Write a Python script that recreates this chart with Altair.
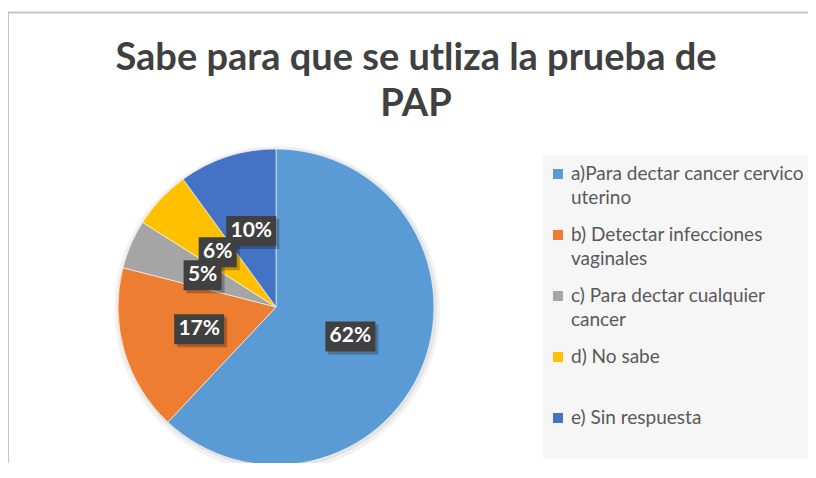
import altair as alt
import pandas as pd

# ---- data ----
categories = [
    "a)Para dectar cancer cervico uterino",
    "b) Detectar infecciones vaginales",
    "c) Para dectar cualquier cancer",
    "d) No sabe",
    "e) Sin respuesta",
]
legend_line1 = ["a)Para dectar cancer cervico", "b) Detectar infecciones",
                "c) Para dectar cualquier", "d) No sabe", "e) Sin respuesta"]
legend_line2 = ["uterino", "vaginales", "cancer", "", ""]
values = [62, 17, 5, 6, 10]
labels = ["62%", "17%", "5%", "6%", "10%"]
colors = ["#5B9BD5", "#ED7D31", "#A5A5A5", "#FFC000", "#4472C4"]
title_lines = ["Sabe para que se utliza la prueba de", "PAP"]

FONT = "Lato"
CX, CY, R = 268, 189, 158   # pie centre / radius (layout)
LR = 80                      # label radius (layout)

df = pd.DataFrame({"cat": categories, "value": values, "label": labels,
                   "order": list(range(len(values)))})
ldf = pd.DataFrame({"cat": categories, "l1": legend_line1, "l2": legend_line2})
one = pd.DataFrame({"k": [0]})

color_scale = alt.Scale(domain=categories, range=colors)

# frame lines
frame_left = alt.Chart(one).mark_rule(color="#C4C4C4", strokeWidth=2).encode(
    x=alt.value(0), y=alt.value(-106), y2=alt.value(400))
frame_top = alt.Chart(one).mark_rule(color="#C4C4C4", strokeWidth=2).encode(
    x=alt.value(-1), x2=alt.value(810), y=alt.value(-105.5))

# title (multi-line text)
title = alt.Chart(one).mark_text(
    text=title_lines, font=FONT, fontSize=38, fontWeight="bold", color="#404040",
    align="center", baseline="middle", lineHeight=46
).encode(x=alt.value(408), y=alt.value(-59))

# legend background
legend_bg = alt.Chart(one).mark_rect(color="#F6F6F6").encode(
    x=alt.value(535), x2=alt.value(804), y=alt.value(37), y2=alt.value(341))

# pie shadow
shadow = alt.Chart(one).mark_arc(outerRadius=R + 5, color="#000000", opacity=0.05).encode(
    theta=alt.value(6.2832), x=alt.value(CX + 1), y=alt.value(CY + 2))
shadow2 = alt.Chart(one).mark_arc(outerRadius=R + 2, color="#000000", opacity=0.06).encode(
    theta=alt.value(6.2832), x=alt.value(CX + 1), y=alt.value(CY + 1))

base = alt.Chart(df)
pie = base.mark_arc(outerRadius=R, stroke="#FFFFFF", strokeWidth=0.6).encode(
    theta=alt.Theta("value:Q", stack=True),
    color=alt.Color("cat:N", scale=color_scale, legend=None),
    order=alt.Order("order:Q"),
    x=alt.value(CX), y=alt.value(CY),
)

lab = base.transform_joinaggregate(total="sum(value)").transform_window(
    cum="sum(value)", sort=[alt.SortField("order")], frame=[None, 0]
).transform_calculate(
    mid="(datum.cum - datum.value/2) / datum.total * 2 * PI",
    bx=f"{CX} + {LR} * sin(datum.mid)",
    by=f"{CY} - {LR} * cos(datum.mid)",
    hw="length(datum.label) > 2 ? 25 : 19",
    x1="datum.bx - datum.hw", x2="datum.bx + datum.hw",
    y1="datum.by - 15", y2="datum.by + 15",
    sx1="datum.x1 + 3", sx2="datum.x2 + 3", sy1="datum.y1 + 3", sy2="datum.y2 + 3",
)

box_shadow = lab.mark_rect(color="#000000", opacity=0.25).encode(
    x=alt.X("sx1:Q", scale=None, axis=None), x2="sx2:Q",
    y=alt.Y("sy1:Q", scale=None, axis=None), y2="sy2:Q")
boxes = lab.mark_rect(color="#404040").encode(
    x=alt.X("x1:Q", scale=None, axis=None), x2="x2:Q",
    y=alt.Y("y1:Q", scale=None, axis=None), y2="y2:Q")
texts = lab.mark_text(font=FONT, fontSize=21, fontWeight="bold", color="#FFFFFF",
                      baseline="middle", align="center").encode(
    x=alt.X("bx:Q", scale=None, axis=None),
    y=alt.Y("by:Q", scale=None, axis=None),
    text="label:N")

# legend
ly = alt.Y("cat:N", scale=alt.Scale(domain=categories, range=[56, 300], padding=0),
           axis=None)
lbase = alt.Chart(ldf)
lsq = lbase.mark_square(size=100, filled=True, opacity=1).encode(
    x=alt.value(550), y=ly,
    color=alt.Color("cat:N", scale=color_scale, legend=None))
lt1 = lbase.mark_text(font=FONT, fontSize=19, color="#595959", align="left",
                      baseline="middle").encode(x=alt.value(563), y=ly, text="l1:N")
lt2 = lbase.mark_text(font=FONT, fontSize=19, color="#595959", align="left",
                      baseline="middle", dy=24).encode(x=alt.value(563), y=ly, text="l2:N")

chart = alt.layer(
    frame_left, frame_top, title, legend_bg, shadow, shadow2, pie, box_shadow, boxes,
    texts, lsq, lt1, lt2
).resolve_scale(x="independent", y="independent").properties(
    width=800, height=345,
    autosize=alt.AutoSizeParams(type="none"),
    padding={"left": 0, "top": 110, "right": 0, "bottom": 0},
).configure_view(stroke=None)

chart.save("out.html", embed_options={"renderer": "svg", "actions": False})
